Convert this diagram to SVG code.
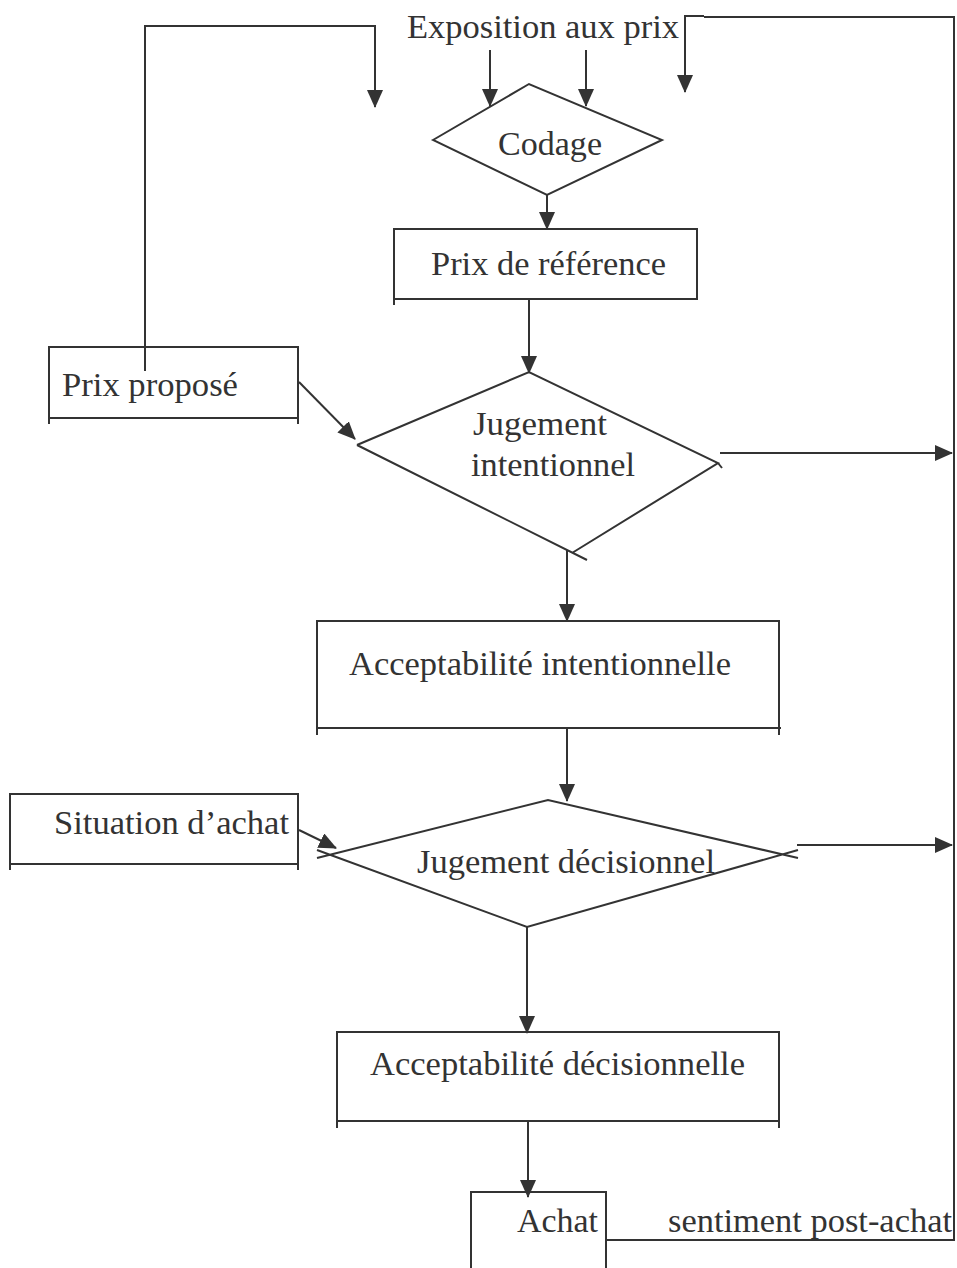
<svg xmlns="http://www.w3.org/2000/svg" width="957" height="1268" viewBox="0 0 957 1268">
<style>
.s{fill:none;stroke:#333;stroke-width:2}
.t{font-family:"Liberation Serif","Times New Roman",serif;font-size:33px;fill:#333}
</style>
<defs>
<marker id="ah" markerWidth="10" markerHeight="10" refX="9" refY="5" orient="auto" markerUnits="userSpaceOnUse" viewBox="0 0 10 10">
<path d="M0,0 L10,5 L0,10 z" fill="#333"/>
</marker>
<marker id="a" markerWidth="18" markerHeight="16" refX="17" refY="8" orient="auto" markerUnits="userSpaceOnUse" viewBox="0 0 18 16">
<path d="M0,0 L18,8 L0,16 z" fill="#333"/>
</marker>
</defs>
<rect width="957" height="1268" fill="#fff"/>
<g id="connectors" class="s">
<polyline points="145,371 145,26 375,26 375,107" marker-end="url(#a)"/>
<line x1="490" y1="50" x2="490" y2="106" marker-end="url(#a)"/>
<line x1="586" y1="50" x2="586" y2="106" marker-end="url(#a)"/>
<polyline points="685,92 685,16 704,16" />
<polyline points="704,17 954,17 954,1240 606,1240"/>
<line x1="547" y1="195" x2="547" y2="229" marker-end="url(#a)"/>
<line x1="529" y1="299" x2="529" y2="373" marker-end="url(#a)"/>
<line x1="299" y1="382" x2="355" y2="439" marker-end="url(#a)"/>
<line x1="720" y1="453" x2="952" y2="453" marker-end="url(#a)"/>
<line x1="567" y1="550" x2="567" y2="621" marker-end="url(#a)"/>
<line x1="567" y1="728" x2="567" y2="801" marker-end="url(#a)"/>
<line x1="299" y1="830" x2="336" y2="848" marker-end="url(#a)"/>
<line x1="797" y1="845" x2="952" y2="845" marker-end="url(#a)"/>
<line x1="527" y1="927" x2="527" y2="1033" marker-end="url(#a)"/>
<line x1="528" y1="1121" x2="528" y2="1197" marker-end="url(#a)"/>
</g>
<line x1="685" y1="16" x2="685" y2="92" class="s" marker-end="url(#a)"/>
<g id="exposition">
<text class="t" x="407" y="38" textLength="272" lengthAdjust="spacingAndGlyphs">Exposition aux prix</text>
</g>
<g id="codage">
<polygon class="s" points="433,140 529,84 662,140 547,195"/>
<text class="t" x="498" y="155" textLength="104" lengthAdjust="spacingAndGlyphs">Codage</text>
</g>
<g id="prix-reference">
<path class="s" d="M394,305 V229 H697 V299 H394"/>
<text class="t" x="431" y="275" textLength="235" lengthAdjust="spacingAndGlyphs">Prix de référence</text>
</g>
<g id="prix-propose">
<path class="s" d="M49,424 V347 H298 V424 M49,418 H298"/>
<text class="t" x="62" y="396" textLength="176" lengthAdjust="spacingAndGlyphs">Prix proposé</text>
</g>
<g id="jugement-intentionnel">
<path class="s" d="M357,445 L529,372 L718,463 L572,553 M357,445 L587,560 M718,463 L722,468"/>
<text class="t" x="473" y="435" textLength="134" lengthAdjust="spacingAndGlyphs">Jugement</text>
<text class="t" x="471" y="476" textLength="164" lengthAdjust="spacingAndGlyphs">intentionnel</text>
</g>
<g id="acceptabilite-intentionnelle">
<path class="s" d="M317,735 V621 H779 V735 M317,728 H781"/>
<text class="t" x="349" y="675" textLength="382" lengthAdjust="spacingAndGlyphs">Acceptabilité intentionnelle</text>
</g>
<g id="situation-achat">
<path class="s" d="M10,870 V794 H298 V870 M10,864 H298"/>
<text class="t" x="54" y="834" textLength="235" lengthAdjust="spacingAndGlyphs">Situation d’achat</text>
</g>
<g id="jugement-decisionnel">
<path class="s" d="M317,858 L548,800 L798,858 M317,850 L527,927 L798,850"/>
<text class="t" x="417" y="873" textLength="298" lengthAdjust="spacingAndGlyphs">Jugement décisionnel</text>
</g>
<g id="acceptabilite-decisionnelle">
<path class="s" d="M337,1128 V1032 H779 V1128 M337,1121 H779"/>
<text class="t" x="370" y="1075" textLength="375" lengthAdjust="spacingAndGlyphs">Acceptabilité décisionnelle</text>
</g>
<g id="achat">
<path class="s" d="M471,1268 V1192 H606 V1268"/>
<text class="t" x="517" y="1232" textLength="81" lengthAdjust="spacingAndGlyphs">Achat</text>
</g>
<g id="sentiment">
<text class="t" x="668" y="1232" textLength="284" lengthAdjust="spacingAndGlyphs">sentiment post-achat</text>
</g>
</svg>
